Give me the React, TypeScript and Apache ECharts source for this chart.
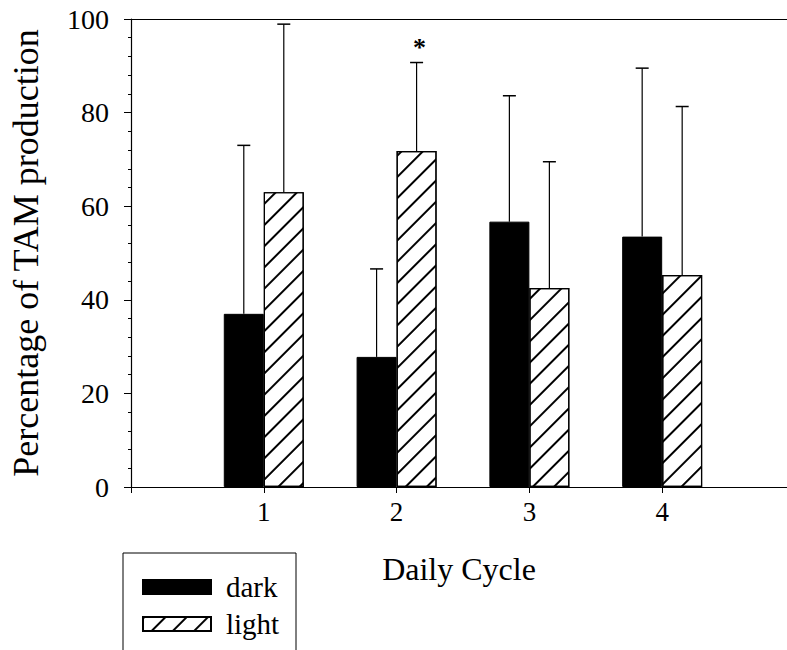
import React, { useEffect, useRef } from "react";
import * as echarts from "echarts";

const categories = [1, 2, 3, 4];
const darkMeans = [37, 27.8, 56.7, 53.5];
const lightMeans = [63, 71.8, 42.5, 45.3];
const darkUpper = [73, 46.6, 83.6, 89.5];
const lightUpper = [98.9, 90.7, 69.5, 81.3];
const lightMarks = ["", "*", "", ""];
const seriesNames = ["dark", "light"];
const yTitle = "Percentage of TAM production";
const xTitle = "Daily Cycle";

const FONT = '"Liberation Serif", "Times New Roman", serif';

function errorRender(offset: number, marks?: string[]) {
  return (params: any, api: any) => {
    const x = api.value(0);
    const top = api.value(1);
    const mean = api.value(2);
    const p0 = api.coord([x, mean]);
    const p1 = api.coord([x, top]);
    const cx = p0[0] + offset;
    const children: any[] = [
      { type: "line", shape: { x1: cx, y1: p0[1], x2: cx, y2: p1[1] }, style: { stroke: "#000", lineWidth: 1.2 } },
      { type: "line", shape: { x1: cx - 6.5, y1: p1[1], x2: cx + 6.5, y2: p1[1] }, style: { stroke: "#000", lineWidth: 1.5 } },
    ];
    const m = marks && marks[params.dataIndex];
    if (m) {
      children.push({
        type: "text",
        style: { text: m, x: cx + 3, y: p1[1] - 15, align: "center", verticalAlign: "middle", font: `bold 26px ${FONT}`, fill: "#000" },
      });
    }
    return { type: "group", children };
  };
}

export default function App() {
  const ref = useRef<HTMLDivElement>(null);
  useEffect(() => {
    if (!ref.current) return;
    const chart = echarts.init(ref.current, null, { renderer: "svg" });
    const xMax = 4.94;
    chart.setOption({
      animation: false,
      backgroundColor: "#fff",
      grid: { left: 125, right: 0, top: 19, bottom: 163 },
      legend: {
        data: seriesNames,
        orient: "vertical",
        left: 137,
        top: 567,
        height: 80,
        itemWidth: 68,
        itemHeight: 14,
        itemGap: 7,
        icon: "rect",
        textStyle: { fontSize: 29, lineHeight: 30, fontFamily: FONT, color: "#000", padding: [0, 0, 0, 10] },
      },
      xAxis: [
        {
          type: "value",
          min: 0,
          max: xMax,
          interval: 1,
          name: xTitle,
          nameLocation: "middle",
          nameGap: 66,
          nameTextStyle: { fontSize: 32, fontFamily: FONT, color: "#000", verticalAlign: "top" },
          axisLine: { show: true, onZero: false, lineStyle: { color: "#000", width: 1.2 } },
          axisTick: { show: true, length: 6, lineStyle: { color: "#000" } },
          axisLabel: {
            margin: 11,
            fontSize: 27,
            fontFamily: FONT,
            color: "#000",
            showMaxLabel: false,
            formatter: (v: number) => (categories.indexOf(v) >= 0 ? String(v) : ""),
          },
          splitLine: { show: false },
        },
        {
          type: "value",
          position: "top",
          min: 0,
          max: xMax,
          axisLine: { show: true, onZero: false, lineStyle: { color: "#000", width: 1.2 } },
          axisTick: { show: false },
          axisLabel: { show: false },
          splitLine: { show: false },
        },
      ],
      yAxis: {
        type: "value",
        min: 0,
        max: 100,
        interval: 20,
        name: yTitle,
        nameLocation: "middle",
        nameGap: 87,
        nameTextStyle: { fontSize: 36, fontFamily: FONT, color: "#000" },
        axisLine: { show: true, lineStyle: { color: "#000", width: 1.2 } },
        axisTick: { show: true, length: 7, lineStyle: { color: "#000" } },
        minorTick: { show: true, splitNumber: 5, length: 3, lineStyle: { color: "#000" } },
        axisLabel: { margin: 22, fontSize: 28, fontFamily: FONT, color: "#000" },
        splitLine: { show: false },
      },
      graphic: [
        {
          type: "polyline",
          shape: { points: [[123, 650], [123, 553], [296, 553], [296, 650]] },
          style: { stroke: "#000", lineWidth: 1, fill: null },
        },
      ],
      series: [
        {
          name: seriesNames[0],
          type: "bar",
          barWidth: 40,
          barGap: "0%",
          data: categories.map((c, i) => [c, darkMeans[i]]),
          itemStyle: { color: "#000", borderColor: "#000", borderWidth: 1 },
        },
        {
          name: seriesNames[1],
          type: "bar",
          barWidth: 40,
          barGap: "0%",
          data: categories.map((c, i) => [c, lightMeans[i]]),
          itemStyle: {
            color: "#fff",
            borderColor: "#000",
            borderWidth: 1.2,
            decal: {
              symbol: "rect",
              symbolSize: 1,
              color: "#000",
              dashArrayX: [1, 0],
              dashArrayY: [1.3, 12.7],
              rotation: -Math.PI / 4,
            },
          },
        },
        {
          type: "custom",
          renderItem: errorRender(-20),
          data: categories.map((c, i) => [c, darkUpper[i], darkMeans[i]]),
          z: 5,
        },
        {
          type: "custom",
          renderItem: errorRender(20, lightMarks),
          data: categories.map((c, i) => [c, lightUpper[i], lightMeans[i]]),
          z: 5,
        },
      ],
    });
    return () => chart.dispose();
  }, []);
  return <div ref={ref} style={{ position: "fixed", left: 0, top: 0, width: 787, height: 650 }} />;
}
